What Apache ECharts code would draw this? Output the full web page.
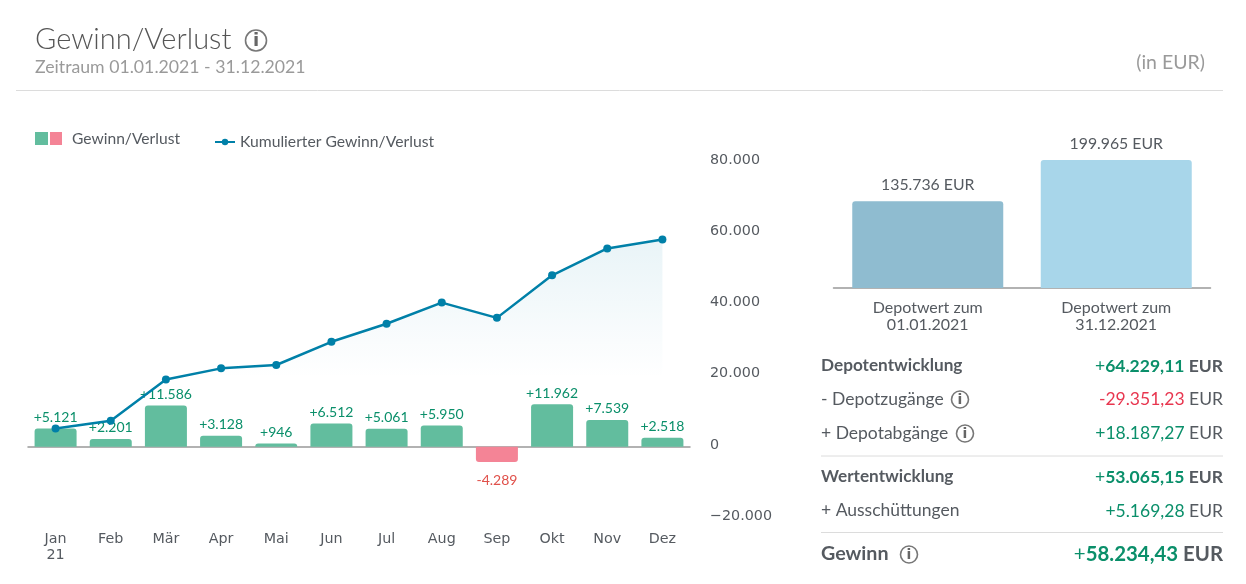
<!DOCTYPE html>
<html><head><meta charset="utf-8">
<style>html,body{margin:0;padding:0;background:#fff}#c{width:1246px;height:584px}</style>
<script src="https://cdn.jsdelivr.net/npm/echarts@6/dist/echarts.min.js"></script></head>
<body><div id="c"></div>
<script>
const months = ['Jan\n21','Feb','Mär','Apr','Mai','Jun','Jul','Aug','Sep','Okt','Nov','Dez'];
const monthly = [5121,2201,11586,3128,946,6512,5061,5950,-4289,11962,7539,2518];
const cumulative = [5121,7322,18908,22036,22982,29494,34555,40505,36216,48178,55717,58235];
const depotCats = ['Depotwert zum\n01.01.2021','Depotwert zum\n31.12.2021'];
const depotVals = [135736,199965];
const GREEN='#62bd9e',RED='#f48496',BLUE='#0080a8',TXT='#555a60',GTXT='#0a8f6a',RTXT='#e8364f',RLAB='#e0504a';
const F='Lato, "Open Sans", sans-serif', D='"DejaVu Sans", sans-serif';
const de = v => Math.abs(v).toString().replace(/\B(?=(\d{3})+$)/g,'.');
const g = [];
const text = (x,y,t,o={}) => g.push({type:'text',x,y,silent:true,style:Object.assign({text:t,font:`${o.w||400} ${o.s||16}px ${o.f||F}`,fill:o.c||TXT,textAlign:o.a||'left',textVerticalAlign:'middle'},o.st||{})});
const info = (x,y,r) => {
  g.push({type:'circle',silent:true,shape:{cx:x,cy:y,r},style:{fill:'#fff',stroke:'#777',lineWidth:1.6}});
  text(x,y+.5,'i',{s:Math.round(r*1.7),w:700,f:D,c:'#666',a:'center'});
};
const line = (x1,x2,y,c) => g.push({type:'line',silent:true,shape:{x1,y1:y,x2,y2:y},style:{stroke:c||'#dcdcdc',lineWidth:1}});
text(35,40,'Gewinn/Verlust',{s:29,w:300,c:'#555'}); info(256,40.5,10.5);
text(35,67.5,'Zeitraum 01.01.2021 - 31.12.2021',{s:17.7,c:'#9a9a9a'});
text(1205,62.5,'(in EUR)',{s:19.5,c:'#9a9a9a',a:'right'});
line(16,1223,90.5);
g.push({type:'rect',silent:true,shape:{x:35,y:132,width:13,height:13},style:{fill:GREEN}});
g.push({type:'rect',silent:true,shape:{x:50,y:132,width:12,height:13},style:{fill:RED}});
text(72,139,'Gewinn/Verlust',{s:15.6});
const val = (y,sign,num,col,s,bold) => g.push({type:'text',x:1223,y,silent:true,style:{
  text:`{a|${sign}}{b|${num}}{c| EUR}`,textAlign:'right',textVerticalAlign:'middle',
  rich:{a:{font:`400 ${s}px ${F}`,fill:col},b:{font:`${bold?700:400} ${s}px ${F}`,fill:col},c:{font:`${bold?700:400} ${s}px ${F}`,fill:TXT}}}});
text(821,365,'Depotentwicklung',{s:17.2,w:700}); val(366,'+','64.229,11',GTXT,17.5,true);
text(821,399,'- Depotzugänge',{s:17.5}); info(960,399.5,8.5); val(399,'-','29.351,23',RTXT,17.5,false);
text(821,433,'+ Depotabgänge',{s:17.5}); info(965,433.5,8.5); val(433,'+','18.187,27',GTXT,17.5,false);
line(821,1223,456);
text(821,476,'Wertentwicklung',{s:17.2,w:700}); val(477,'+','53.065,15',GTXT,17.5,true);
text(821,510,'+ Ausschüttungen',{s:17.5}); val(511,'+','5.169,28',GTXT,17.5,false);
line(821,1223,532.5);
text(821,554,'Gewinn',{s:19.7,w:700}); info(909,554.5,8.5); val(554,'+','58.234,43',GTXT,20.4,true);

const option = {
  animation:false, backgroundColor:'#fff',
  legend:{left:209,top:129,itemWidth:20,itemHeight:8,itemGap:3,data:['Kumulierter Gewinn/Verlust'],
    textStyle:{fontFamily:F,fontSize:15.7,color:TXT},selectedMode:false},
  grid:[{left:28,top:162,width:662,height:356,outerBoundsMode:'none'},{left:833.5,top:160,width:377,height:128,outerBoundsMode:'none'}],
  xAxis:[
    {type:'category',gridIndex:0,data:months,axisTick:{show:false},axisLine:{onZero:true,lineStyle:{color:'#999',width:1.5}},
     axisLabel:{margin:13,interval:0,fontFamily:D,fontSize:14.3,lineHeight:16,color:TXT,verticalAlign:'top'}},
    {type:'category',gridIndex:1,data:depotCats,axisTick:{show:false},axisLine:{lineStyle:{color:'#999',width:1.5}},
     axisLabel:{margin:11,interval:0,fontFamily:F,fontSize:16,lineHeight:17,color:TXT}}
  ],
  yAxis:[
    {type:'value',gridIndex:0,position:'right',min:-20000,max:80000,interval:20000,splitLine:{show:false},axisLine:{show:false},axisTick:{show:false},
     axisLabel:{margin:20,fontFamily:D,fontSize:14.3,color:TXT,verticalAlign:'bottom',lineHeight:4,align:'left',formatter:v=>(v<0?'−':'')+de(v)}},
    {type:'value',gridIndex:1,min:0,max:200000,show:false}
  ],
  series:[
    {type:'bar',name:'Gewinn/Verlust',xAxisIndex:0,yAxisIndex:0,barWidth:42,z:3,
     data:monthly.map(v=>({value:v,itemStyle:{color:v<0?RED:GREEN,borderRadius:v<0?[0,0,3,3]:[3,3,0,0]},
       label:{show:true,position:v<0?'bottom':'top',distance:v<0?11:4,color:v<0?RLAB:GTXT,fontFamily:F,fontSize:14,formatter:(v<0?'-':'+')+de(v)}}))},
    {type:'line',name:'Kumulierter Gewinn/Verlust',xAxisIndex:0,yAxisIndex:0,data:cumulative,z:5,symbol:'circle',symbolSize:8,
     lineStyle:{color:BLUE,width:2.5},itemStyle:{color:BLUE},
     areaStyle:{color:{type:'linear',x:0,y:0,x2:0,y2:1,colorStops:[{offset:0,color:'rgba(0,128,168,0.125)'},{offset:.67,color:'rgba(0,128,168,0)'}]}}},
    {type:'bar',name:'Depotwert',xAxisIndex:1,yAxisIndex:1,barWidth:151,
     data:depotVals.map((v,i)=>({value:v,itemStyle:{color:i?'#a8d6ea':'#8fbcd0',borderRadius:[3,3,0,0]}})),
     label:{show:true,position:'top',distance:8,fontFamily:F,fontSize:15.8,color:TXT,formatter:p=>de(p.value)+' EUR'}}
  ],
  graphic:{elements:g}
};
echarts.init(document.getElementById('c'),null,{renderer:'canvas'}).setOption(option);
</script></body></html>
